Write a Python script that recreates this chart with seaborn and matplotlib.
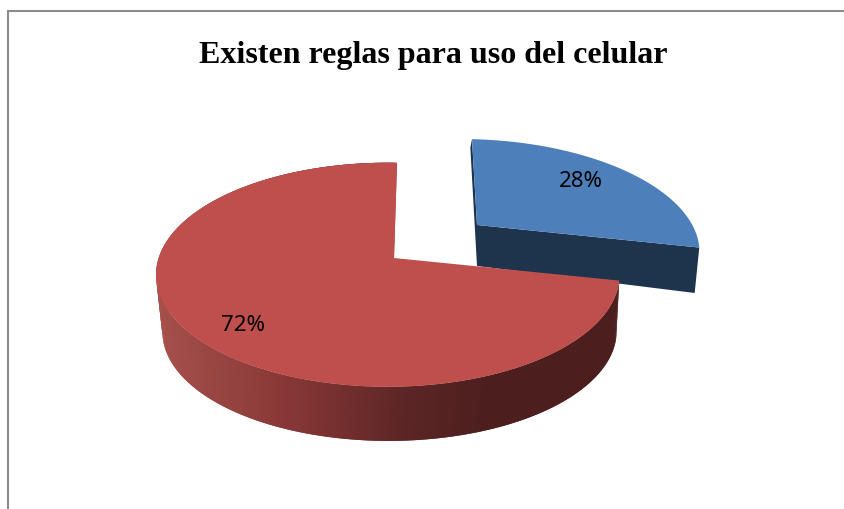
import numpy as np
import matplotlib
matplotlib.use("Agg")
import matplotlib.pyplot as plt
from matplotlib.colors import LinearSegmentedColormap
from matplotlib.path import Path
from matplotlib.transforms import Affine2D, Transform
import seaborn as sns

# ---- data ----
TITLE = "Existen reglas para uso del celular"
categories = ["Sí", "No"]
values = [28, 72]
pie_colors = ["#4D7FBB", "#BE4F4C"]
cut_colors = ["#1E334C", "#963F3C"]
rim_stops = [(0.0, "#A6504C"), (0.30, "#853735"), (0.55, "#5C2525"), (0.72, "#4C1F1E"), (1.0, "#4C1F1E")]
label_distance = [0.73, 0.81]
label_turn = [3.4, 3.9]

# projection of each slice: x0, y0, A, B, C, E, k, m (top face, then bottom face)
top_view = [(477, 226, 222, 103, -6, -3, 0.20, 0.024), (394, 259, 229, 109.5, 3.5, -2, 0.15, 0.024)]
low_view = [(477, 267, 217, 142, -8, 0, 0.20, 0.024), (390, 316, 224.5, 107, 3.0, -1, 0.15, 0.0)]


class Perspective(Transform):
    input_dims = 2
    output_dims = 2
    is_separable = False
    has_inverse = False

    def __init__(self, x0, y0, A, B, C, E, k, m):
        super().__init__()
        self.p = (x0, y0, A, B, C, E, k, m)

    def transform_non_affine(self, values):
        x0, y0, A, B, C, E, k, m = self.p
        values = np.asarray(values, dtype=float)
        u, v = values[..., 0], values[..., 1]
        w = 1 + k * v + m * u
        return np.stack([x0 + (A * u + C * v) / w, y0 - (B * v + E * u) / w], axis=-1)

    def transform_path_non_affine(self, path):
        # flatten curves first so that the projected outline stays smooth
        polys = path.to_polygons(Affine2D().scale(2000), closed_only=True)
        verts = np.vstack(polys) / 2000
        return Path(self.transform_non_affine(verts), closed=True)


sns.set_theme(style="white")
fig = plt.figure(figsize=(8.45, 5.10), dpi=100, facecolor="white")
ax = fig.add_axes([0, 0, 1, 1])

wedges, texts, autotexts = ax.pie(
    values, colors=sns.color_palette(pie_colors), startangle=90, counterclock=False,
    autopct="%1.0f%%", pctdistance=1.0, radius=1.0,
    wedgeprops=dict(linewidth=0, antialiased=True),
    textprops=dict(family="Noto Sans", size=16, color="black"),
)
ax.set_aspect("auto")
ax.set_xlim(0, 845)
ax.set_ylim(510, 0)
ax.axis("off")

rim_cmap = LinearSegmentedColormap.from_list("rim", rim_stops)


def point(view, deg):
    r = np.deg2rad(deg)
    return Perspective(*view).transform(np.array([[np.cos(r), np.sin(r)]]))[0]


for i, wedge in enumerate(wedges):
    top, low = top_view[i], low_view[i]
    t1, t2 = wedge.theta1, wedge.theta2

    # flat cut faces
    apex_t = np.array(top[:2], float)
    apex_l = np.array(low[:2], float)
    for deg in (t1, t2):
        a = point(top, deg)
        b = point(low, deg)
        quad = np.array([apex_t, a, b, apex_l])
        is_right = abs(((deg + 180) % 360) - 180) < 30
        if i == 1 and is_right:
            continue
        ax.fill(quad[:, 0], quad[:, 1], color=cut_colors[i], lw=0, zorder=2)

    # outer rim with a left-to-right shading: overlapping strips leave no seams
    if i == 1:
        th = np.deg2rad(np.linspace(t1, t2, 241))
        circle = np.column_stack([np.cos(th), np.sin(th)])
        up = Perspective(*top).transform(circle)
        dn = Perspective(*low).transform(circle)
        for j in range(len(th) - 2):
            xs = np.r_[up[j:j + 3, 0], dn[j:j + 3, 0][::-1]]
            ys = np.r_[up[j:j + 3, 1], dn[j:j + 3, 1][::-1]]
            ax.fill(xs, ys, color=rim_cmap((up[j + 1, 0] - 157) / (620 - 157)), lw=0, zorder=2)

    # top face
    wedge.set_transform(Perspective(*top) + ax.transData)
    wedge.set_zorder(3 if i == 0 else 5)

    # percentage label, carried by the same projection
    mid = np.deg2rad(0.5 * (t1 + t2) + label_turn[i])
    at = autotexts[i]
    at.set_position((label_distance[i] * np.cos(mid), label_distance[i] * np.sin(mid)))
    at.set_transform(Perspective(*top) + ax.transData)
    at.set_zorder(6)

ax.text(433, 56, TITLE, ha="center", va="center", family="Liberation Serif",
        weight="bold", size=23, color="black", zorder=7)

# chart frame: only its left and top edges fall inside the crop
ax.plot([8.5, 8.5, 845], [510, 11.5, 11.5], color="#8C8C8C", lw=1.5, zorder=1,
        solid_joinstyle="miter")

fig.savefig("out.png", dpi=100)
